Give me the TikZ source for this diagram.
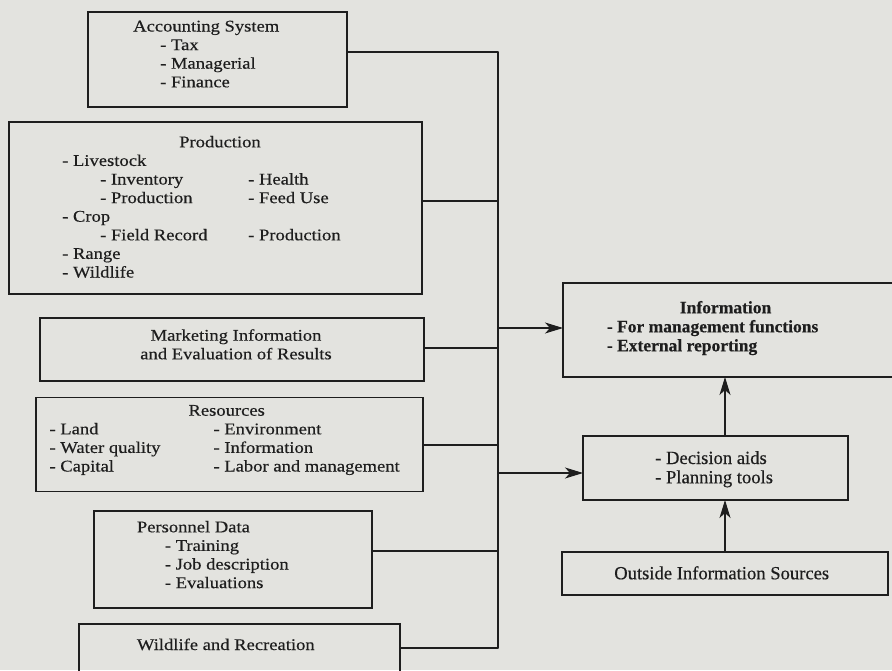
\documentclass[tikz,border=0pt]{standalone}
\usepackage{fontspec}
\setmainfont{Liberation Serif}[FakeBold=0.4]
\newfontfamily\widefont{Liberation Serif}[FakeStretch=1.14,FakeBold=0.4]
\usetikzlibrary{arrows.meta}
\definecolor{paper}{RGB}{227,227,223}
\definecolor{ink}{RGB}{30,30,30}

\begin{document}
\begin{tikzpicture}[x=1pt,y=-1pt,>={Stealth[length=18pt,width=11pt,inset=5pt]},line cap=round,
  box/.style 2 args={draw=ink,line width=1.1pt,inner sep=0pt,outer sep=0pt,minimum width=#1,minimum height=#2},
  wire/.style={draw=ink,line width=1.1pt},
  lefttxt/.style={text=ink,inner sep=0pt,anchor=base west,font=\widefont\fontsize{16.3}{18.6}\selectfont},
  righttxt/.style={text=ink,inner sep=0pt,anchor=base west,font=\fontsize{18.6}{19.3}\selectfont},
  infotxt/.style={text=ink,inner sep=0pt,anchor=base west,font=\bfseries\fontsize{17.5}{19}\selectfont}]
\useasboundingbox (0,0) rectangle (892,670);
\fill[paper] (0,0) rectangle (892,670);

% boxes on the left
\node[box={259pt}{95pt}] (acct) at (217.5,59.5) {};
\node[box={413pt}{172pt}] (prod) at (215.5,208) {};
\node[box={384pt}{63pt}] (mkt) at (232,349.5) {};
\node[box={387pt}{94pt}] (res) at (229.5,444.5) {};
\node[box={278pt}{97pt}] (pers) at (233,559.5) {};
\node[box={321pt}{76pt}] (wild) at (239.5,662) {};

% boxes on the right
\node[box={347pt}{94pt}] (info) at (736.5,330) {};
\node[box={265pt}{64pt}] (dec) at (715.5,468) {};
\node[box={326pt}{43pt}] (outs) at (725,573.5) {};

% texts
\node[lefttxt] (acct-t) at (133,31.5) {\begin{tabular}[t]{@{}l@{}}
  Accounting System\\
  \hspace{27pt}- Tax\\
  \hspace{27pt}- Managerial\\
  \hspace{27pt}- Finance
\end{tabular}};
\node[lefttxt] (prod-t) at (62,147.3) {\begin{tabular}[t]{@{}p{186pt}@{}l@{}}
  \multicolumn{2}{@{}l@{}}{\hspace{117pt}Production}\\
  - Livestock & \\
  \hspace{38pt}- Inventory & - Health\\
  \hspace{38pt}- Production & - Feed Use\\
  - Crop & \\
  \hspace{38pt}- Field Record & - Production\\
  - Range & \\
  - Wildlife &
\end{tabular}};
\node[lefttxt,anchor=base] (mkt-t) at (236,340.7) {\begin{tabular}[t]{@{}c@{}}
  Marketing Information\\
  and Evaluation of Results
\end{tabular}};
\node[lefttxt] (res-t) at (49.3,415.7) {\begin{tabular}[t]{@{}p{164pt}@{}l@{}}
  \multicolumn{2}{@{}l@{}}{\hspace{139pt}Resources}\\
  - Land & - Environment\\
  - Water quality & - Information\\
  - Capital & - Labor and management
\end{tabular}};
\node[lefttxt] (pers-t) at (136.7,532.3) {\begin{tabular}[t]{@{}l@{}}
  Personnel Data\\
  \hspace{28pt}- Training\\
  \hspace{28pt}- Job description\\
  \hspace{28pt}- Evaluations
\end{tabular}};
\node[lefttxt] (wild-t) at (136.7,650) {Wildlife and Recreation};
\node[infotxt] (info-t) at (606.7,313.3) {\begin{tabular}[t]{@{}l@{}}
  \hspace{73pt}Information\\
  - For management functions\\
  - External reporting
\end{tabular}};
\node[righttxt] (dec-t) at (655,464) {\begin{tabular}[t]{@{}l@{}}
  - Decision aids\\
  - Planning tools
\end{tabular}};
\node[righttxt,anchor=base] (outs-t) at (721.7,579.3) {Outside Information Sources};

% collecting line
\coordinate (b1) at (498,52);
\coordinate (b2) at (498,201);
\coordinate (b3) at (498,348);
\coordinate (b4) at (498,445);
\coordinate (b5) at (498,551);
\coordinate (b6) at (498,648);
\coordinate (o1) at (498,328);
\coordinate (o2) at (498,473);
\draw[wire] (acct.east |- b1) -- (b1);
\draw[wire] (prod.east |- b2) -- (b2);
\draw[wire] (mkt.east |- b3) -- (b3);
\draw[wire] (res.east |- b4) -- (b4);
\draw[wire] (pers.east |- b5) -- (b5);
\draw[wire] (wild.east |- b6) -- (b6);
\draw[wire] (b1) -- (b6);
\draw[wire,->] (o1) -- (info.west |- o1);
\draw[wire,->] (o2) -- (dec.west |- o2);
\draw[wire,->] (outs.north) -- (outs.north |- dec.south);
\draw[wire,->] (dec.north -| outs.north) -- (outs.north |- info.south);
\end{tikzpicture}
\end{document}
